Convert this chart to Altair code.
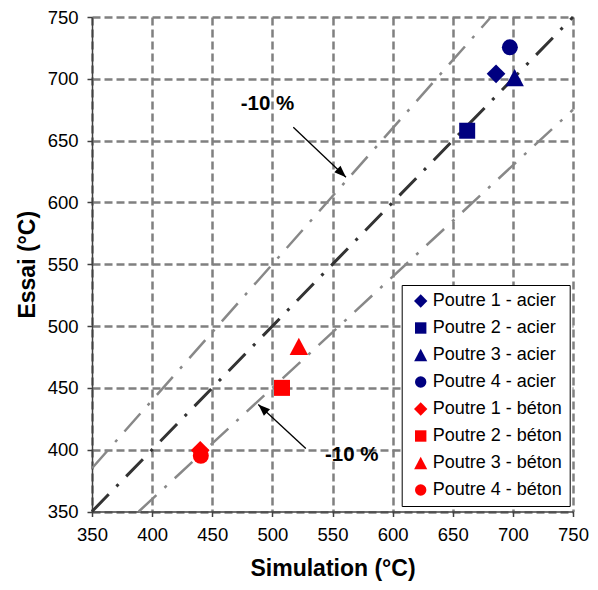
import altair as alt
import pandas as pd

# ---- data ----
series = ["Poutre 1 - acier", "Poutre 2 - acier", "Poutre 3 - acier", "Poutre 4 - acier",
          "Poutre 1 - béton", "Poutre 2 - béton", "Poutre 3 - béton", "Poutre 4 - béton"]
simulation = [686, 662, 701.5, 697.5, 440, 508, 522, 440.5]
essai = [704, 658, 701, 725.5, 399.5, 450, 483.5, 395]
colors = ["#000080"] * 4 + ["#FF0000"] * 4
tri = "M0,-1.08L1.15,1.08L-1.15,1.08Z"
dia = "M0,-1.17L1.17,0L0,1.17L-1.17,0Z"
shapes = [dia, "square", tri, "circle"] * 2

# reference lines: y = x, y = 1.1 x (upper) and y = 0.9 x (lower)
line_names = ["upper", "upper", "diag", "diag", "lower", "lower"]
line_x = [350, 681.8, 350, 750, 388.9, 750]
line_y = [385, 750, 350, 750, 350, 675]

# annotations
ann_text = ["-10 %", "-10 %"]
ann_text_x = [496, 566]
ann_text_y = [680, 396]
arrow_tail_x = [517.4, 527.8]
arrow_tail_y = [660.8, 401]
arrow_tip_x = [561.2, 488.3]
arrow_tip_y = [620.4, 436.6]

ticks = [350, 400, 450, 500, 550, 600, 650, 700, 750]

FONT = "Liberation Sans"

pts = pd.DataFrame({"serie": series, "sim": simulation, "essai": essai})
lines = pd.DataFrame({"line": line_names, "x": line_x, "y": line_y})
texts = pd.DataFrame({"t": ann_text, "x": ann_text_x, "y": ann_text_y})
arrows = pd.DataFrame({"x": arrow_tail_x, "y": arrow_tail_y,
                       "x2": arrow_tip_x, "y2": arrow_tip_y})

xscale = alt.Scale(domain=[350, 750], nice=False, zero=False)
yscale = alt.Scale(domain=[350, 750], nice=False, zero=False)

xaxis = alt.Axis(title="Simulation (°C)", values=ticks)
yaxis = alt.Axis(title="Essai (°C)", values=ticks)

base_x = alt.X("x:Q", scale=xscale, axis=xaxis)
base_y = alt.Y("y:Q", scale=yscale, axis=yaxis)

dash = [24, 11, 3, 11]

upper_lower = alt.Chart(lines).transform_filter(
    "datum.line != 'diag'"
).mark_line(color="#888888", strokeWidth=2.5, strokeDash=dash, strokeCap="butt").encode(
    x=base_x, y=base_y, detail="line:N"
)

diag = alt.Chart(lines).transform_filter(
    "datum.line == 'diag'"
).mark_line(color="#333333", strokeWidth=3, strokeDash=dash, strokeCap="butt").encode(
    x=base_x, y=base_y
)

arrow_lines = alt.Chart(arrows).mark_rule(color="black", strokeWidth=1.3).encode(
    x=base_x, y=base_y, x2="x2:Q", y2="y2:Q"
)

head_shape = "M0,0 L-0.38,1 L0.38,1 Z"
head1 = alt.Chart(arrows.iloc[[0]]).mark_point(
    shape=head_shape, filled=True, color="black", size=560, angle=133.5, opacity=1, strokeWidth=0
).encode(x=alt.X("x2:Q", scale=xscale, axis=xaxis), y=alt.Y("y2:Q", scale=yscale, axis=yaxis))
head2 = alt.Chart(arrows.iloc[[1]]).mark_point(
    shape=head_shape, filled=True, color="black", size=560, angle=312.9, opacity=1, strokeWidth=0
).encode(x=alt.X("x2:Q", scale=xscale, axis=xaxis), y=alt.Y("y2:Q", scale=yscale, axis=yaxis))

labels = alt.Chart(texts).mark_text(
    font=FONT, fontSize=20.5, fontWeight="bold", color="black", align="center", baseline="middle"
).encode(x=base_x, y=base_y, text="t:N")

legend = alt.Legend(
    title=None, orient="none", legendX=309.7, legendY=268,
    labelFont=FONT, labelFontSize=18, labelColor="black",
    symbolSize=130, symbolStrokeWidth=0, symbolType="circle",
    rowPadding=9, padding=7, symbolOffset=3, labelOffset=3,
    fillColor="white", strokeColor="black", cornerRadius=0,
)

points = alt.Chart(pts).mark_point(filled=True, size=256, opacity=1, strokeWidth=0).encode(
    x=alt.X("sim:Q", scale=xscale, axis=xaxis),
    y=alt.Y("essai:Q", scale=yscale, axis=yaxis),
    color=alt.Color("serie:N", scale=alt.Scale(domain=series, range=colors), legend=legend),
    shape=alt.Shape("serie:N", scale=alt.Scale(domain=series, range=shapes), legend=legend),
)

chart = alt.layer(
    upper_lower, diag, arrow_lines, head1, head2, labels, points
).properties(
    width=481, height=494.5,
    autosize=alt.AutoSizeParams(type="none"),
    padding={"left": 84, "top": 9, "right": 17, "bottom": 70},
).configure_view(
    stroke=None
).configure_axis(
    grid=True, gridColor="#808080", gridWidth=2.5, gridDash=[8, 4],
    domainColor="#404040", domainWidth=1.5,
    tickColor="#404040", tickSize=5, tickWidth=1.5,
    labelFont=FONT, labelFontSize=18.5, labelColor="black", labelPadding=9,
    titleFont=FONT, titleFontSize=23, titleFontWeight="bold", titleColor="black",
    labelFlush=False, labelOverlap=False,
).configure_axisX(
    titlePadding=13
).configure_axisY(
    titlePadding=8
)

chart.save("out.html", embed_options={"renderer": "svg", "actions": False})
